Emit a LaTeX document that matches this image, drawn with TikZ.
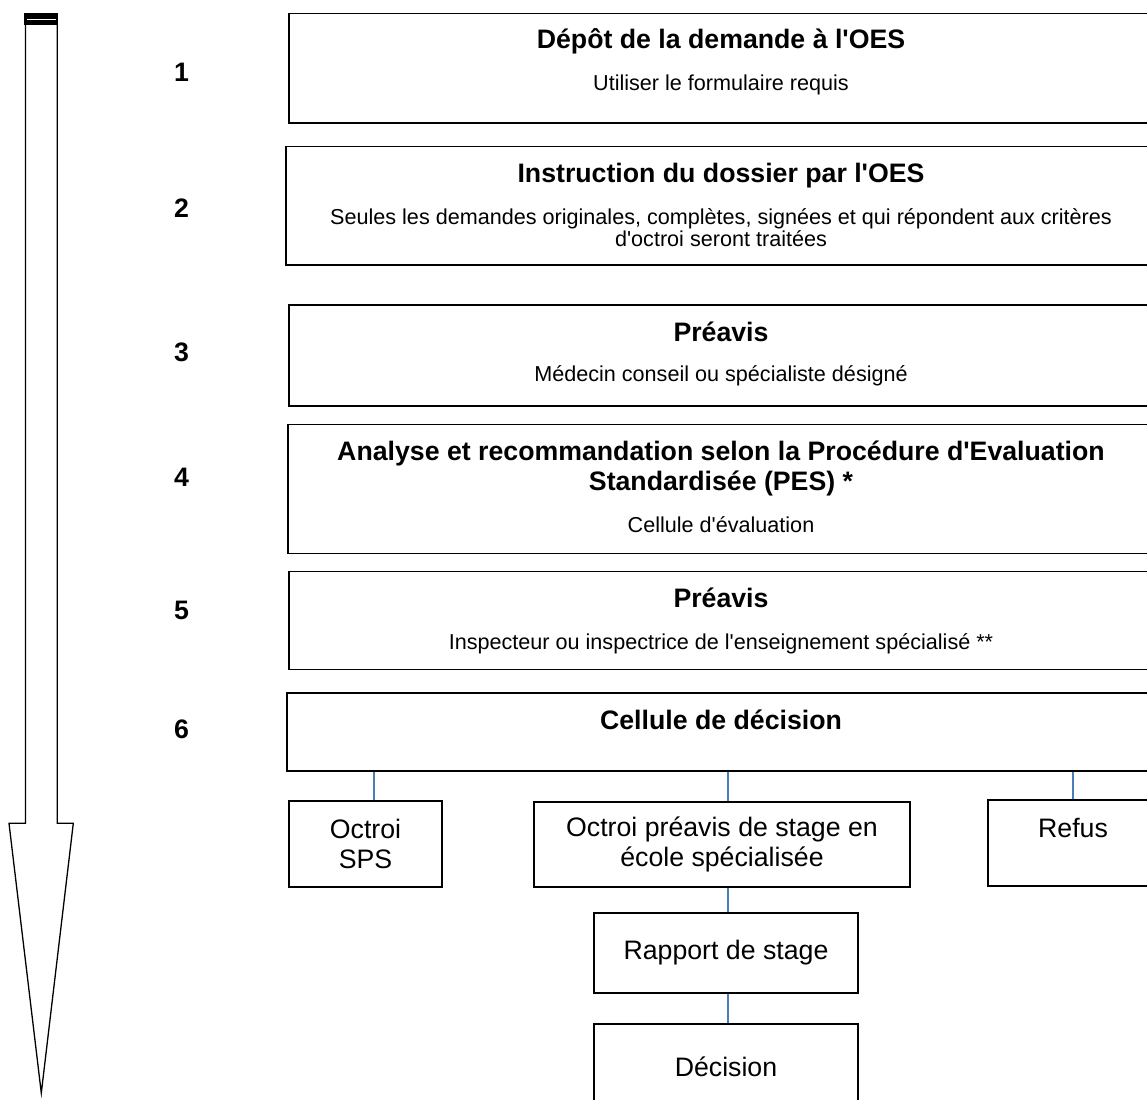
\documentclass[tikz,border=0pt]{standalone}
\usepackage{fontspec}
\setmainfont{Liberation Sans}[Ligatures=TeXOff]
\definecolor{lienbleu}{RGB}{74,126,187}

\begin{document}
\begin{tikzpicture}[x=1pt,y=-1pt,
	etape/.style={draw,line width=1.5pt,inner sep=0pt},
	titre/.style={anchor=base,align=center,font=\fontsize{26.7}{30.7}\selectfont\bfseries},
	detail/.style={anchor=base,align=center,font=\fontsize{21.6}{21.5}\selectfont},
	numero/.style={anchor=base,font=\fontsize{26.7}{30.7}\selectfont\bfseries},
	choix/.style={draw,line width=1.5pt,align=center,inner sep=0pt,font=\fontsize{26.7}{29.5}\selectfont},
	lien/.style={lienbleu,line width=1.4pt}]
				\useasboundingbox (0,0) rectangle (1147,1099);
				% fleche du temps
				\fill (24.3,12.7) rectangle (57.8,24.7);
				\draw[white,line width=1.2pt] (26.5,19.3) -- (55.8,19.3);
				\draw[line width=1.3pt] (25.5,24.7) -- (25.5,823.3) -- (9,823.3) -- (41.3,1093) -- (73.3,823.3) -- (57.3,823.3) -- (57.3,24.7);
				% numeros des etapes
				\foreach \n/\y in {1/81.7,2/218,3/361.7,4/486.7,5/619.3,6/738.3}
				\node[numero] (n\n) at (181.6,\y) {\n};
				% etapes 1 a 6
				\node[etape,minimum width=864,minimum height=109.7] (e1) at (721,68.2) {};
				\node[etape,minimum width=869,minimum height=118.3] (e2) at (720.5,205.9) {};
				\node[etape,minimum width=864,minimum height=101] (e3) at (721,355.5) {};
				\node[etape,minimum width=865,minimum height=129] (e4) at (720.5,488.8) {};
				\node[etape,minimum width=864,minimum height=97.6] (e5) at (721,620.5) {};
				\node[etape,minimum width=868,minimum height=78.3] (e6) at (721,731.9) {};
				\node[titre] (t1) at (721,49) {Dépôt de la demande à l'OES};
				\node[detail] (d1) at (721,91) {Utiliser le formulaire requis};
				\node[titre] (t2) at (721,183) {Instruction du dossier par l'OES};
				\node[detail] (d2) at (721,246.5) {Seules les demandes originales, complètes, signées et qui répondent aux critères\\d'octroi seront traitées};
				\node[titre] (t3) at (721,341) {Préavis};
				\node[detail] (d3) at (721,381.7) {Médecin conseil ou spécialiste désigné};
				\node[titre] (t4) at (721,490.7) {Analyse et recommandation selon la Procédure d'Evaluation\\Standardisée (PES) *};
				\node[detail] (d4) at (721,532) {Cellule d'évaluation};
				\node[titre] (t5) at (721,607.3) {Préavis};
				\node[detail] (d5) at (721,649.3) {Inspecteur ou inspectrice de l'enseignement spécialisé **};
				\node[titre] (t6) at (721,729.3) {Cellule de décision};
				% issues de la decision
				\node[choix,minimum width=153,minimum height=86] (sps) at (365.5,844) {Octroi\\SPS};
				\node[choix,minimum width=376,minimum height=85] (stage) at (722,844.5) {Octroi préavis de stage en\\école spécialisée};
				\node[choix,minimum width=170,minimum height=86] (refus) at (1073,843) {Refus\\\mbox{}};
				\node[choix,minimum width=264,minimum height=80] (rapport) at (726,953) {Rapport de stage};
				\node[choix,minimum width=264,minimum height=86] (decision) at (726,1067) {Décision};
				\draw[lien] ([xshift=8.5]sps.north) -- ([xshift=8.5]sps.north |- e6.south);
				\draw[lien] ([xshift=6]stage.north) -- ([xshift=6]stage.north |- e6.south);
				\draw[lien] (refus.north) -- (refus.north |- e6.south);
				\draw[lien] ([xshift=6]stage.south) -- ([xshift=6]stage.south |- rapport.north);
				\draw[lien] ([xshift=2]rapport.south) -- ([xshift=2]rapport.south |- decision.north);
			\end{tikzpicture}
\end{document}
